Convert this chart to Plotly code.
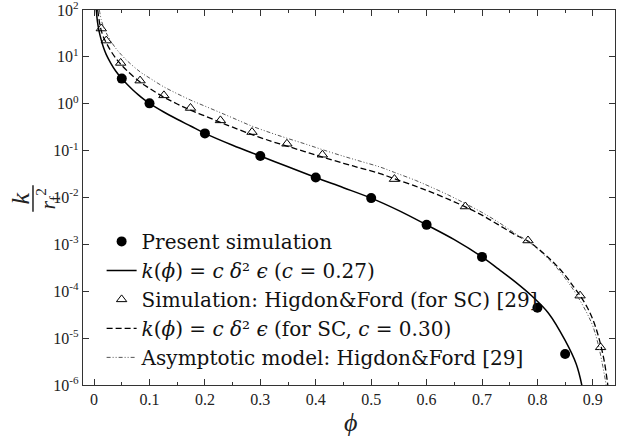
import plotly.graph_objects as go

# Present simulation (filled circles)
phi_present = [0.05, 0.1, 0.2, 0.3, 0.4, 0.5, 0.6, 0.7, 0.8, 0.85]
k_present = [3.44, 1.02, 0.233, 0.0767, 0.0267, 0.0097, 0.00261, 5.4e-4, 4.46e-5, 4.57e-6]

# Model line c = 0.27 (solid)
phi_model = [0.004, 0.006, 0.009, 0.0125, 0.017, 0.022, 0.03, 0.039, 0.05, 0.06, 0.07,
             0.08, 0.09, 0.1, 0.125, 0.15, 0.175, 0.2, 0.25, 0.3, 0.35, 0.4, 0.45, 0.5,
             0.55, 0.6, 0.65, 0.7, 0.73, 0.76, 0.79, 0.82, 0.85, 0.87, 0.88, 0.885]
k_model = [100, 57.5, 35.5, 24.0, 15.8, 11.2, 7.4, 5.0, 3.44, 2.57, 1.97,
           1.55, 1.24, 1.02, 0.676, 0.468, 0.331, 0.233, 0.130, 0.0767, 0.0452, 0.0267, 0.0162, 0.0097,
           0.00525, 0.00261, 0.00126, 5.4e-4, 2.95e-4, 1.58e-4, 7.9e-5, 3.4e-5, 8.9e-6, 2.8e-6, 1.0e-6, 4e-7]

# Higdon & Ford simulation, SC (open triangles)
phi_hf = [0.013, 0.022, 0.048, 0.083, 0.126, 0.174, 0.228, 0.285, 0.348, 0.412,
          0.542, 0.670, 0.783, 0.877, 0.914]
k_hf = [40.3, 22.3, 7.44, 3.12, 1.51, 0.813, 0.442, 0.249, 0.140, 0.0817,
        0.0247, 0.00643, 0.00121, 8.05e-5, 6.36e-6]

# Model line for SC, c = 0.30 (dashed)
phi_sc = [0.0065, 0.01, 0.013, 0.017, 0.022, 0.03, 0.04, 0.048, 0.06, 0.083, 0.1, 0.126,
          0.15, 0.174, 0.2, 0.228, 0.25, 0.285, 0.32, 0.348, 0.38, 0.412, 0.45, 0.48,
          0.516, 0.542, 0.58, 0.605, 0.64, 0.67, 0.7, 0.73, 0.76, 0.783, 0.81, 0.83,
          0.85, 0.865, 0.877, 0.89, 0.9, 0.91, 0.92, 0.927, 0.93]
k_sc = [100, 52.5, 36.3, 26.3, 20.0, 13.5, 9.1, 7.0, 5.0, 2.9, 2.14, 1.38,
        0.99, 0.73, 0.55, 0.40, 0.316, 0.22, 0.158, 0.125, 0.0955, 0.073, 0.0537, 0.0427,
        0.0324, 0.0251, 0.0174, 0.0135, 0.0091, 0.0063, 0.0042, 0.0026, 0.0016, 0.00117, 6.6e-4, 4.0e-4,
        2.2e-4, 1.26e-4, 8.1e-5, 4.5e-5, 2.5e-5, 1.1e-5, 3.5e-6, 1.0e-6, 5e-7]

# Asymptotic model, Higdon & Ford (dash-dot)
phi_asym = [0.0095, 0.013, 0.017, 0.022, 0.03, 0.04, 0.048, 0.06, 0.083, 0.1, 0.126,
            0.15, 0.174, 0.2, 0.228, 0.25, 0.285, 0.32, 0.348, 0.38, 0.412, 0.45, 0.48,
            0.516, 0.542, 0.58, 0.605, 0.64, 0.67, 0.7, 0.73, 0.76, 0.783, 0.81, 0.83,
            0.85, 0.865, 0.877, 0.89, 0.9, 0.91, 0.918, 0.924, 0.928]
k_asym = [100, 61.7, 43.7, 32.4, 21.9, 14.8, 11.5, 8.2, 4.8, 3.55, 2.29,
          1.64, 1.20, 0.89, 0.646, 0.50, 0.333, 0.237, 0.184, 0.14, 0.105, 0.0759, 0.0596,
          0.0447, 0.0343, 0.0232, 0.0173, 0.0112, 0.0074, 0.0048, 0.00295, 0.0017, 0.00117, 6.3e-4, 3.7e-4,
          1.9e-4, 1.07e-4, 6.3e-5, 3.3e-5, 1.8e-5, 7.1e-6, 2.5e-6, 1.0e-6, 4e-7]

x_ticks = [0, 0.1, 0.2, 0.3, 0.4, 0.5, 0.6, 0.7, 0.8, 0.9]
x_ticktext = ["0", "0.1", "0.2", "0.3", "0.4", "0.5", "0.6", "0.7", "0.8", "0.9"]
y_ticks = [1e2, 1e1, 1e0, 1e-1, 1e-2, 1e-3, 1e-4, 1e-5, 1e-6]
y_ticktext = ["10<sup>2</sup>", "10<sup>1</sup>", "10<sup>0</sup>", "10<sup>-1</sup>", "10<sup>-2</sup>",
              "10<sup>-3</sup>", "10<sup>-4</sup>", "10<sup>-5</sup>", "10<sup>-6</sup>"]

SERIF = "Liberation Serif, Times New Roman, serif"
LEGEND_SERIF = "DejaVu Serif, Liberation Serif, serif"
INK = "#222222"

fig = go.Figure()
fig.add_trace(go.Scatter(x=phi_present, y=k_present, mode="markers",
                         marker=dict(symbol="circle", size=10, color="black"),
                         name="Present simulation"))
fig.add_trace(go.Scatter(x=phi_model, y=k_model, mode="lines", line_shape="spline",
                         line=dict(color="black", width=1.5),
                         name="<i>k</i>(<i>ϕ</i>) = <i>c δ</i>² <i>ϵ</i> (<i>c</i> = 0.27)"))
fig.add_trace(go.Scatter(x=phi_hf, y=k_hf, mode="markers",
                         marker=dict(symbol="triangle-up-open", size=9, color="black",
                                     line=dict(width=1)),
                         name="Simulation: Higdon&amp;Ford (for SC) [29]"))
fig.add_trace(go.Scatter(x=phi_sc, y=k_sc, mode="lines", line_shape="spline",
                         line=dict(color="black", width=1.3, dash="6px,3px"),
                         name="<i>k</i>(<i>ϕ</i>) = <i>c δ</i>² <i>ϵ</i> (for SC, <i>c</i> = 0.30)"))
fig.add_trace(go.Scatter(x=phi_asym, y=k_asym, mode="lines", line_shape="spline",
                         line=dict(color="#555555", width=1, dash="4px,2px,1px,2px,1px,2px"),
                         name="Asymptotic model: Higdon&amp;Ford [29]"))

axis_common = dict(showline=True, linecolor="#333333", linewidth=1.2, mirror="ticks",
                   ticks="inside", tickcolor="#333333", showgrid=False, zeroline=False,
                   automargin=False, ticklabeloverflow="allow",
                   tickfont=dict(family=SERIF, size=16, color=INK))

fig.update_xaxes(range=[-0.02, 0.94], tickvals=x_ticks, ticktext=x_ticktext, ticklen=6,
                 minor=dict(dtick=0.05, tick0=0, ticks="inside", ticklen=3, tickcolor="#333333"),
                 **axis_common)
fig.update_yaxes(type="log", range=[-6.0005, 2.0005], tickvals=y_ticks, ticktext=y_ticktext, ticklen=6,
                 **axis_common)

# x-axis title
fig.add_annotation(x=0.502, y=-0.101, xref="paper", yref="paper", text="<i>ϕ</i>", showarrow=False,
                   font=dict(family=SERIF, size=26, color=INK), xanchor="center", yanchor="middle")

# y-axis title: rotated fraction k / r_f^2
fig.add_annotation(x=-0.117, y=0.497, xref="paper", yref="paper", text="<i>k</i>", showarrow=False,
                   textangle=-90, font=dict(family=SERIF, size=26, color=INK),
                   xanchor="center", yanchor="middle")
fig.add_shape(type="line", xref="paper", yref="paper", x0=-0.094, x1=-0.094, y0=0.462, y1=0.533,
              line=dict(color=INK, width=1.5))
fig.add_annotation(x=-0.066, y=0.497, xref="paper", yref="paper",
                   text="<i>r</i><sub>f</sub><sup>2</sup>", showarrow=False, textangle=-90,
                   font=dict(family=SERIF, size=22, color=INK), xanchor="center", yanchor="middle")

fig.update_layout(
    width=622, height=439,
    margin=dict(l=83, r=7, t=10, b=54),
    paper_bgcolor="white", plot_bgcolor="white",
    showlegend=True,
    legend=dict(x=0.035, y=0.435, xanchor="left", yanchor="top", bgcolor="rgba(0,0,0,0)",
                font=dict(family=LEGEND_SERIF, size=20, color="#111111"), tracegroupgap=0,
                itemwidth=30),
    font=dict(family=SERIF),
)

fig.write_html("out.html", config={"displayModeBar": False},
               post_script="document.body.style.margin='0px'; document.body.style.overflow='hidden';")
